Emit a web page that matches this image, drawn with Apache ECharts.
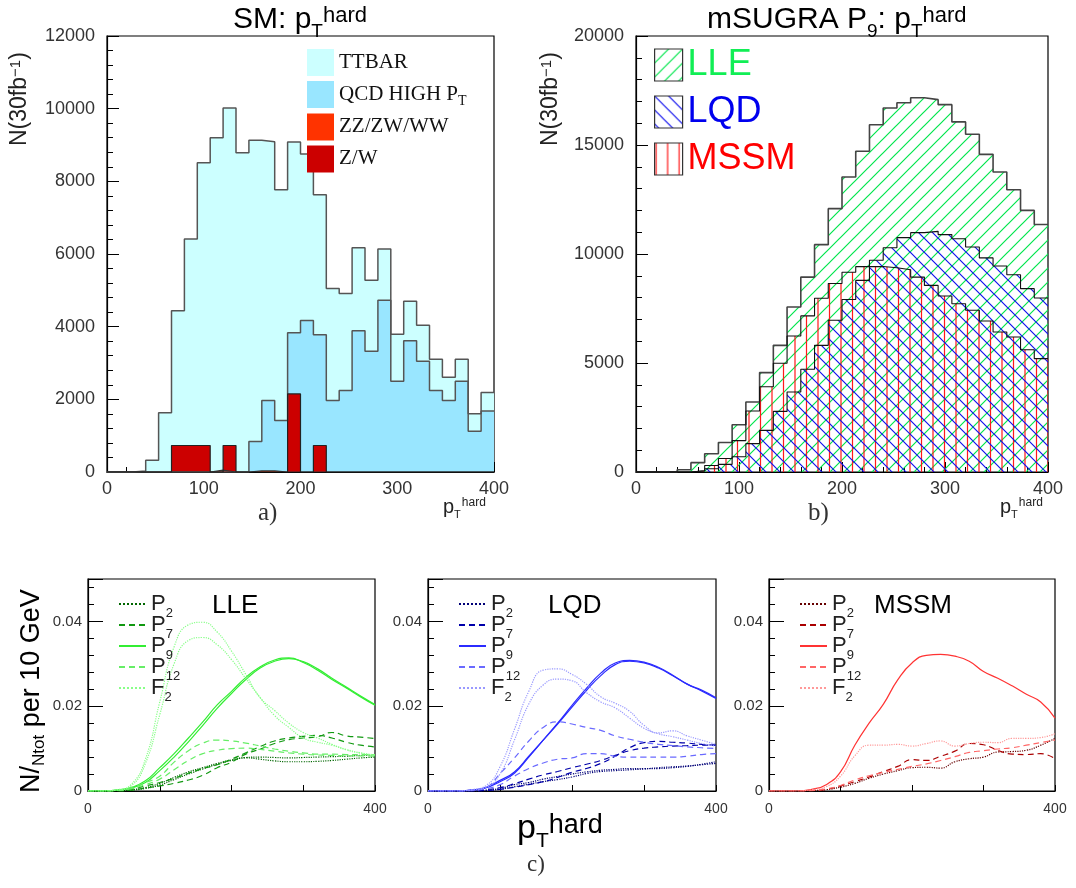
<!DOCTYPE html>
<html>
<head>
<meta charset="utf-8">
<script src="https://cdn.jsdelivr.net/npm/echarts@6/dist/echarts.min.js"></script>
<style>
html, body { margin: 0; padding: 0; background: #fff; }
#chart { width: 1076px; height: 888px; }
</style>
</head>
<body>
<div id="chart"></div>
<script>
// ---- histograms: 30 bins of pT hard between 0 and 400 GeV ----
var nBins = 30;
var ptMax = 400;

// a) Standard Model backgrounds
var ttbar = [0, 0, 30, 320, 1630, 4440, 6410, 8510, 9200, 10020, 8790, 9130, 9090, 7770, 9080,
             8750, 7630, 5050, 4910, 6170, 5280, 6140, 3790, 4700, 4040, 3100, 2610, 3100, 1600, 2190];
var qcd = [0, 0, 0, 0, 0, 0, 0, 0, 0, 0, 0, 840, 1970, 1420, 3830,
           4170, 3780, 1970, 2240, 3890, 3320, 4730, 2500, 3610, 3050, 2240, 1970, 2500, 1120, 1680];
var diboson = [0, 0, 0, 0, 0, 0, 0, 0, 50, 0, 0, 30, 30, 0, 0,
               0, 0, 0, 0, 0, 0, 0, 0, 0, 0, 0, 0, 0, 0, 0];
var zw = [0, 0, 0, 0, 0, 730, 730, 730, 0, 730, 0, 0, 0, 0, 2150,
          0, 730, 0, 0, 0, 0, 0, 0, 0, 0, 0, 0, 0, 0, 0];

// b) mSUGRA point P9
var lleHist = [0, 0, 0, 100, 430, 840, 1350, 2170, 3210, 4560, 5810, 7570, 8940, 10430, 12080,
               13530, 14710, 15930, 16700, 16940, 17170, 17080, 16850, 16060, 15490, 14570, 13760, 12950, 12000, 11350];
var mssmHist = [0, 0, 0, 0, 60, 300, 620, 1440, 2800, 3910, 4990, 6240, 7160, 7970, 8650,
                9160, 9420, 9430, 9370, 9280, 8940, 8560, 8070, 7720, 7420, 6930, 6420, 6190, 5610, 5200];
var lqdHist = [0, 0, 0, 0, 50, 150, 350, 700, 1300, 1910, 2780, 3670, 4710, 5810, 6960,
               7910, 8790, 9710, 10290, 10750, 10980, 11040, 10890, 10700, 10320, 9820, 9450, 9050, 8410, 7980];

// ---- c) normalised distributions, sampled every 20 GeV ----
var pt = [0, 20, 40, 60, 80, 100, 120, 140, 160, 180, 200, 220, 240, 260, 280, 300, 320, 340, 360, 380, 400];

var lleP2a  = [0, 0, 0, 0.0003, 0.0008, 0.0018, 0.0032, 0.0045, 0.0055, 0.0065, 0.0073, 0.0078, 0.0075, 0.0071, 0.0069, 0.0069, 0.0070, 0.0072, 0.0075, 0.0078, 0.0080];
var lleP2b  = [0, 0, 0, 0.0002, 0.0006, 0.0014, 0.0027, 0.0040, 0.0052, 0.0063, 0.0072, 0.0079, 0.0080, 0.0079, 0.0078, 0.0079, 0.0080, 0.0081, 0.0082, 0.0084, 0.0085];
var lleP7a  = [0, 0, 0, 0.0002, 0.0007, 0.0012, 0.0018, 0.0026, 0.0037, 0.0055, 0.0068, 0.0087, 0.0099, 0.0112, 0.0121, 0.0125, 0.0128, 0.0138, 0.0130, 0.0127, 0.0124];
var lleP7b  = [0, 0, 0, 0.0004, 0.0012, 0.0020, 0.0030, 0.0042, 0.0053, 0.0062, 0.0075, 0.0090, 0.0105, 0.0118, 0.0125, 0.0129, 0.0131, 0.0125, 0.0115, 0.0108, 0.0104];
var lleP9a  = [0, 0, 0.0002, 0.0008, 0.0024, 0.0055, 0.0088, 0.0125, 0.0163, 0.0203, 0.0235, 0.0268, 0.0293, 0.0309, 0.0314, 0.0303, 0.0285, 0.0263, 0.0243, 0.0222, 0.0202];
var lleP9b  = [0, 0, 0.0002, 0.0007, 0.0020, 0.0048, 0.0080, 0.0116, 0.0155, 0.0195, 0.0230, 0.0263, 0.0290, 0.0306, 0.0312, 0.0305, 0.0288, 0.0266, 0.0245, 0.0224, 0.0204];
var lleP12a = [0, 0, 0.0002, 0.0008, 0.0020, 0.0035, 0.0068, 0.0095, 0.0113, 0.0120, 0.0118, 0.0113, 0.0106, 0.0099, 0.0094, 0.0090, 0.0087, 0.0087, 0.0086, 0.0086, 0.0086];
var lleP12b = [0, 0, 0.0001, 0.0005, 0.0015, 0.0028, 0.0050, 0.0072, 0.0088, 0.0096, 0.0100, 0.0101, 0.0098, 0.0094, 0.0090, 0.0087, 0.0085, 0.0084, 0.0083, 0.0083, 0.0082];
var lleF2a  = [0, 0, 0.0003, 0.0015, 0.0075, 0.0210, 0.0340, 0.0392, 0.0398, 0.0375, 0.0330, 0.0275, 0.0220, 0.0190, 0.0160, 0.0138, 0.0125, 0.0110, 0.0097, 0.0089, 0.0084];
var lleF2b  = [0, 0, 0.0002, 0.0012, 0.0065, 0.0180, 0.0300, 0.0355, 0.0362, 0.0345, 0.0310, 0.0265, 0.0220, 0.0178, 0.0150, 0.0125, 0.0115, 0.0108, 0.0098, 0.0090, 0.0085];

var lqdP2a  = [0, 0, 0, 0, 0.0002, 0.0006, 0.0015, 0.0020, 0.0028, 0.0034, 0.0040, 0.0045, 0.0049, 0.0051, 0.0053, 0.0053, 0.0053, 0.0055, 0.0058, 0.0063, 0.0069];
var lqdP2b  = [0, 0, 0, 0, 0.0001, 0.0004, 0.0010, 0.0016, 0.0022, 0.0027, 0.0033, 0.0041, 0.0046, 0.0048, 0.0050, 0.0052, 0.0055, 0.0057, 0.0059, 0.0062, 0.0065];
var lqdP7a  = [0, 0, 0, 0, 0.0001, 0.0004, 0.0009, 0.0015, 0.0022, 0.0032, 0.0044, 0.0053, 0.0065, 0.0082, 0.0102, 0.0114, 0.0117, 0.0115, 0.0113, 0.0110, 0.0108];
var lqdP7b  = [0, 0, 0, 0, 0.0003, 0.0008, 0.0017, 0.0028, 0.0038, 0.0046, 0.0055, 0.0063, 0.0072, 0.0084, 0.0095, 0.0101, 0.0104, 0.0106, 0.0107, 0.0108, 0.0108];
var lqdP9a  = [0, 0, 0, 0.0002, 0.0008, 0.0025, 0.0045, 0.0082, 0.0120, 0.0158, 0.0198, 0.0237, 0.0272, 0.0298, 0.0306, 0.0302, 0.0290, 0.0272, 0.0252, 0.0236, 0.0218];
var lqdP9b  = [0, 0, 0, 0.0002, 0.0007, 0.0022, 0.0042, 0.0080, 0.0120, 0.0160, 0.0202, 0.0242, 0.0278, 0.0302, 0.0308, 0.0304, 0.0292, 0.0273, 0.0252, 0.0238, 0.0220];
var lqdP12a = [0, 0, 0, 0.0002, 0.0008, 0.0041, 0.0078, 0.0118, 0.0150, 0.0163, 0.0158, 0.0150, 0.0143, 0.0130, 0.0122, 0.0115, 0.0110, 0.0107, 0.0104, 0.0102, 0.0100];
var lqdP12b = [0, 0, 0, 0.0001, 0.0005, 0.0015, 0.0035, 0.0053, 0.0066, 0.0075, 0.0078, 0.0088, 0.0088, 0.0082, 0.0080, 0.0080, 0.0080, 0.0080, 0.0082, 0.0086, 0.0088];
var lqdF2a  = [0, 0, 0, 0.0003, 0.0012, 0.0057, 0.0145, 0.0235, 0.0285, 0.0288, 0.0275, 0.0252, 0.0222, 0.0207, 0.0188, 0.0155, 0.0137, 0.0142, 0.0130, 0.0120, 0.0110];
var lqdF2b  = [0, 0, 0, 0.0002, 0.0008, 0.0040, 0.0120, 0.0205, 0.0250, 0.0264, 0.0260, 0.0232, 0.0210, 0.0196, 0.0172, 0.0148, 0.0135, 0.0128, 0.0120, 0.0112, 0.0106];

var mssmP2  = [0, 0, 0, 0.0001, 0.0003, 0.0009, 0.0018, 0.0030, 0.0040, 0.0048, 0.0055, 0.0056, 0.0054, 0.0069, 0.0076, 0.0080, 0.0092, 0.0093, 0.0096, 0.0108, 0.0124];
var mssmP7  = [0, 0, 0, 0.0001, 0.0004, 0.0012, 0.0022, 0.0033, 0.0046, 0.0058, 0.0074, 0.0072, 0.0082, 0.0094, 0.0112, 0.0109, 0.0096, 0.0087, 0.0086, 0.0088, 0.0076];
var mssmP9  = [0, 0, 0, 0.0004, 0.0015, 0.0045, 0.0108, 0.0160, 0.0205, 0.0262, 0.0302, 0.0320, 0.0322, 0.0318, 0.0306, 0.0282, 0.0266, 0.0248, 0.0228, 0.0210, 0.0172];
var mssmP12 = [0, 0, 0, 0.0001, 0.0005, 0.0013, 0.0026, 0.0036, 0.0044, 0.0051, 0.0058, 0.0064, 0.0072, 0.0081, 0.0091, 0.0095, 0.0099, 0.0102, 0.0108, 0.0114, 0.0120];
var mssmF2  = [0, 0, 0, 0.0003, 0.0010, 0.0035, 0.0083, 0.0108, 0.0108, 0.0110, 0.0106, 0.0112, 0.0118, 0.0106, 0.0112, 0.0115, 0.0114, 0.0124, 0.0124, 0.0126, 0.0135];

var FONT = 'Liberation Sans';
var SERIF = 'Liberation Serif';

// hatch patterns for the mSUGRA plot
function hatch(color, kind, w, h) {
    var c = document.createElement('canvas');
    c.width = w; c.height = h;
    var g = c.getContext('2d');
    g.strokeStyle = color;
    g.lineWidth = 1.2;
    g.beginPath();
    if (kind === '/') {
        g.moveTo(-1, h + 1); g.lineTo(w + 1, -1);
        g.moveTo(-2, 2); g.lineTo(2, -2);
        g.moveTo(w - 2, h + 2); g.lineTo(w + 2, h - 2);
    } else if (kind === '\\') {
        g.moveTo(-1, -1); g.lineTo(w + 1, h + 1);
        g.moveTo(w - 2, -2); g.lineTo(w + 2, 2);
        g.moveTo(-2, h - 2); g.lineTo(2, h + 2);
    } else {
        g.moveTo(1.5, 0); g.lineTo(1.5, h);
        g.moveTo(13, 0); g.lineTo(13, h);
    }
    g.stroke();
    return { image: c, repeat: 'repeat' };
}
function lleFill() { return hatch('#00e64d', '/', 14, 14); }
function lqdFill() { return hatch('#1111ee', '\\', 14, 14); }
function mssmFill() { return hatch('#ff1a1a', '|', 23, 10); }

// step outline points for a histogram
function histLine(values) {
    var w = ptMax / nBins, pts = [];
    values.forEach(function (v, i) { pts.push([i * w, v]); });
    pts.push([ptMax, values[values.length - 1]]);
    return pts;
}

function histSeries(name, values, fill, edge, ew, gi) {
    return {
        name: name, type: 'line', step: 'end', symbol: 'none', smooth: false,
        xAxisIndex: gi, yAxisIndex: gi, data: histLine(values),
        lineStyle: { color: edge, width: ew },
        itemStyle: { color: edge },
        areaStyle: { color: fill, opacity: 1 },
        silent: true, animation: false
    };
}

var curveSeries = [];
function curve(name, values, color, type, gi) {
    curveSeries.push({
        name: name, type: 'line', smooth: 0.5, symbol: 'none', showSymbol: false,
        xAxisIndex: gi, yAxisIndex: gi,
        data: pt.map(function (x, i) { return [x, values[i]]; }),
        lineStyle: { color: color, width: 1.2, type: type },
        itemStyle: { color: color },
        animation: false
    });
}
var dash = [6, 4];
curve('LLE P2', lleP2a, '#006600', 'dotted', 2);
curve('LLE P2', lleP2b, '#006600', 'dotted', 2);
curve('LLE P7', lleP7a, '#119911', dash, 2);
curve('LLE P7', lleP7b, '#119911', dash, 2);
curve('LLE P9', lleP9a, '#33ee33', 'solid', 2);
curve('LLE P9', lleP9b, '#33ee33', 'solid', 2);
curve('LLE P12', lleP12a, '#66ee66', dash, 2);
curve('LLE P12', lleP12b, '#66ee66', dash, 2);
curve('LLE F2', lleF2a, '#88ff88', 'dotted', 2);
curve('LLE F2', lleF2b, '#88ff88', 'dotted', 2);

curve('LQD P2', lqdP2a, '#000077', 'dotted', 3);
curve('LQD P2', lqdP2b, '#000077', 'dotted', 3);
curve('LQD P7', lqdP7a, '#0000aa', dash, 3);
curve('LQD P7', lqdP7b, '#0000aa', dash, 3);
curve('LQD P9', lqdP9a, '#2b2bff', 'solid', 3);
curve('LQD P9', lqdP9b, '#2b2bff', 'solid', 3);
curve('LQD P12', lqdP12a, '#6a6aff', dash, 3);
curve('LQD P12', lqdP12b, '#6a6aff', dash, 3);
curve('LQD F2', lqdF2a, '#9999ff', 'dotted', 3);
curve('LQD F2', lqdF2b, '#9999ff', 'dotted', 3);

curve('MSSM P2', mssmP2, '#660000', 'dotted', 4);
curve('MSSM P7', mssmP7, '#aa0000', dash, 4);
curve('MSSM P9', mssmP9, '#ff3333', 'solid', 4);
curve('MSSM P12', mssmP12, '#ff6666', dash, 4);
curve('MSSM F2', mssmF2, '#ff9999', 'dotted', 4);

// axes
var gridBox = { show: true, borderColor: '#000', borderWidth: 1.2, backgroundColor: 'transparent', containLabel: false };
var grids = [
    Object.assign({ left: 107, top: 36, width: 387, height: 436 }, gridBox),
    Object.assign({ left: 636, top: 36, width: 412, height: 436 }, gridBox),
    Object.assign({ left: 88, top: 579, width: 287, height: 212 }, gridBox),
    Object.assign({ left: 428, top: 579, width: 288, height: 212 }, gridBox),
    Object.assign({ left: 769, top: 579, width: 286, height: 212 }, gridBox)
];

function xAx(gi, small) {
    return {
        type: 'value', gridIndex: gi, min: 0, max: ptMax, interval: 100,
        axisLine: { lineStyle: { color: '#000', width: 1.2 } },
        axisTick: { inside: true, length: small ? 6 : 10, lineStyle: { color: '#000' } },
        minorTick: { show: !small, splitNumber: 5, length: 5, lineStyle: { color: '#000' } },
        splitLine: { show: false },
        axisLabel: {
            fontFamily: FONT, fontSize: small ? 14 : 18, color: '#333', margin: small ? 11 : 8,
            formatter: small ? function (v) { return (v === 0 || v === ptMax) ? String(v) : ''; }
                             : function (v) { return String(v); }
        }
    };
}
function yAx(gi, max, interval, small) {
    return {
        type: 'value', gridIndex: gi, min: 0, max: max, interval: interval,
        axisLine: { lineStyle: { color: '#000', width: 1.2 } },
        axisTick: { inside: true, length: small ? 15 : 12, lineStyle: { color: '#000' } },
        minorTick: { show: true, splitNumber: 5, length: 6, lineStyle: { color: '#000' } },
        splitLine: { show: false },
        axisLabel: {
            fontFamily: FONT, fontSize: small ? 15 : 18, color: '#333', margin: small ? 6 : 12,
            showMaxLabel: !small,
            formatter: small ? function (v) { return v === 0 ? '0' : v.toFixed(2); }
                             : function (v) { return String(v); }
        }
    };
}

var richTitle = {
    p: { fontFamily: FONT, fontSize: 30, fontWeight: 'normal', lineHeight: 30, verticalAlign: 'top', color: '#000' },
    t: { fontFamily: FONT, fontSize: 19, fontWeight: 'normal', lineHeight: 19, verticalAlign: 'top', padding: [17, 0, 0, 0], color: '#000' },
    h: { fontFamily: FONT, fontSize: 22, fontWeight: 'normal', lineHeight: 22, verticalAlign: 'top', color: '#000' }
};

var smallPt = {
    p: { fontFamily: FONT, fontSize: 20, lineHeight: 20, verticalAlign: 'top', fill: '#222' },
    t: { fontFamily: FONT, fontSize: 11, lineHeight: 11, verticalAlign: 'top', padding: [12, 0, 0, 0], fill: '#222' },
    h: { fontFamily: FONT, fontSize: 12, lineHeight: 12, verticalAlign: 'top', padding: [0, 0, 0, 1], fill: '#222' }
};

function bottomLegend(prefix, left) {
    return {
        left: left, top: 588, orient: 'vertical', itemWidth: 27, itemHeight: 12, itemGap: -6,
        data: ['P2', 'P7', 'P9', 'P12', 'F2'].map(function (k) { return prefix + ' ' + k; }),
        selectedMode: false,
        itemStyle: { opacity: 0 },
        formatter: function (name) {
            var k = name.split(' ')[1];
            return '{a|' + k.charAt(0) + '}{s|' + k.slice(1) + '}';
        },
        textStyle: {
            rich: {
                a: { fontFamily: FONT, fontSize: 22, lineHeight: 22, verticalAlign: 'top', color: '#222' },
                s: { fontFamily: FONT, fontSize: 13, lineHeight: 13, verticalAlign: 'top', padding: [14, 0, 0, 0], color: '#222' }
            }
        }
    };
}

var rotLabel = {
    n: { fontFamily: FONT, fontSize: 23, fill: '#222', verticalAlign: 'top', lineHeight: 23 },
    u: { fontFamily: FONT, fontSize: 15, fill: '#222', verticalAlign: 'top', lineHeight: 15 }
};

var option = {
    backgroundColor: '#fff',
    animation: false,
    title: [
        { text: '{p|SM: p}{t|T}{h|hard}', left: 228, top: 0, textStyle: { rich: richTitle } },
        { text: '{p|mSUGRA P}{t|9}{p|: p}{t|T}{h|hard}', left: 702, top: 0, textStyle: { rich: richTitle } },
        { text: 'LLE', left: 207, top: 588, textStyle: { fontFamily: FONT, fontSize: 26, fontWeight: 'normal', color: '#000' } },
        { text: 'LQD', left: 543, top: 588, textStyle: { fontFamily: FONT, fontSize: 26, fontWeight: 'normal', color: '#000' } },
        { text: 'MSSM', left: 869, top: 588, textStyle: { fontFamily: FONT, fontSize: 26, fontWeight: 'normal', color: '#000' } }
    ],
    legend: [
        {
            left: 302, top: 44, orient: 'vertical', itemWidth: 27, itemHeight: 27, itemGap: 5, selectedMode: false,
            data: [
                { name: 'TTBAR', icon: 'rect', itemStyle: { color: '#ccffff', borderWidth: 0 } },
                { name: 'QCD HIGH PT', icon: 'rect', itemStyle: { color: '#99e6ff', borderWidth: 0 } },
                { name: 'ZZ/ZW/WW', icon: 'rect', itemStyle: { color: '#ff3300', borderWidth: 0 } },
                { name: 'Z/W', icon: 'rect', itemStyle: { color: '#cc0000', borderWidth: 0 } }
            ],
            formatter: function (name) {
                return name === 'QCD HIGH PT' ? '{a|QCD HIGH P}{s|T}' : '{a|' + name + '}';
            },
            textStyle: {
                rich: {
                    a: { fontFamily: SERIF, fontSize: 21, lineHeight: 22, verticalAlign: 'top', color: '#111' },
                    s: { fontFamily: SERIF, fontSize: 14, lineHeight: 14, verticalAlign: 'top', padding: [11, 0, 0, 0], color: '#111' }
                }
            }
        },
        {
            left: 649, top: 42, orient: 'vertical', itemWidth: 28, itemHeight: 32, itemGap: 11, selectedMode: false,
            data: [
                { name: 'LLE', icon: 'rect', itemStyle: { color: lleFill(), borderColor: '#333', borderWidth: 1.2 }, textStyle: { color: '#11ee55' } },
                { name: 'LQD', icon: 'rect', itemStyle: { color: lqdFill(), borderColor: '#333', borderWidth: 1.2 }, textStyle: { color: '#0000ee' } },
                { name: 'MSSM', icon: 'rect', itemStyle: { color: mssmFill(), borderColor: '#333', borderWidth: 1.2 }, textStyle: { color: '#ff0000' } }
            ],
            textStyle: { fontFamily: FONT, fontSize: 36 }
        },
        bottomLegend('LLE', 113),
        bottomLegend('LQD', 453),
        bottomLegend('MSSM', 794)
    ],
    grid: grids,
    xAxis: [xAx(0, false), xAx(1, false), xAx(2, true), xAx(3, true), xAx(4, true)],
    yAxis: [yAx(0, 12000, 2000, false), yAx(1, 20000, 5000, false),
            yAx(2, 0.05, 0.02, true), yAx(3, 0.05, 0.02, true), yAx(4, 0.05, 0.02, true)],
    series: [
        histSeries('TTBAR', ttbar, '#ccffff', '#555', 1.5, 0),
        histSeries('QCD HIGH PT', qcd, '#99e6ff', '#555', 1.5, 0),
        histSeries('ZZ/ZW/WW', diboson, '#ff3300', '#333', 1.2, 0),
        histSeries('Z/W', zw, '#cc0000', '#222', 1.2, 0),
        histSeries('LLE', lleHist, lleFill(), '#444', 1.6, 1),
        histSeries('MSSM', mssmHist, mssmFill(), '#111', 1.1, 1),
        histSeries('LQD', lqdHist, lqdFill(), '#111', 1.1, 1)
    ].concat(curveSeries),
    graphic: [
        { type: 'text', x: 20, y: 146, rotation: Math.PI / 2,
          style: { text: '{n|N(30fb}{u|−1}{n|)}', align: 'left', verticalAlign: 'middle', rich: rotLabel } },
        { type: 'text', x: 551, y: 146, rotation: Math.PI / 2,
          style: { text: '{n|N(30fb}{u|−1}{n|)}', align: 'left', verticalAlign: 'middle', rich: rotLabel } },
        { type: 'text', x: 443, y: 497, style: { text: '{p|p}{t|T}{h|hard}', rich: smallPt } },
        { type: 'text', x: 1000, y: 497, style: { text: '{p|p}{t|T}{h|hard}', rich: smallPt } },
        { type: 'text', x: 258, y: 501, style: { text: 'a)', fontFamily: SERIF, fontSize: 25, fill: '#333' } },
        { type: 'text', x: 808, y: 501, style: { text: 'b)', fontFamily: SERIF, fontSize: 25, fill: '#333' } },
        { type: 'text', x: 527, y: 853, style: { text: 'c)', fontFamily: SERIF, fontSize: 23, fill: '#333' } },
        { type: 'text', x: 517, y: 812, style: { text: '{p|p}{t|T}{h|hard}', rich: {
            p: { fontFamily: FONT, fontSize: 34, lineHeight: 34, verticalAlign: 'top', fill: '#000' },
            t: { fontFamily: FONT, fontSize: 21, lineHeight: 21, verticalAlign: 'top', padding: [19, 0, 0, 0], fill: '#000' },
            h: { fontFamily: FONT, fontSize: 27, lineHeight: 27, verticalAlign: 'top', fill: '#000' } } } },
        { type: 'text', x: 32, y: 793, rotation: Math.PI / 2,
          style: { text: '{n|N/}{s|Ntot}{n| per 10 GeV}', align: 'left', verticalAlign: 'middle',
                   rich: { n: { fontFamily: FONT, fontSize: 27, lineHeight: 27, verticalAlign: 'top', fill: '#000' },
                           s: { fontFamily: FONT, fontSize: 17, lineHeight: 17, verticalAlign: 'top', padding: [12, 0, 0, 0], fill: '#000' } } } }
    ]
};

var chart = echarts.init(document.getElementById('chart'));
chart.setOption(option);
</script>
</body>
</html>
